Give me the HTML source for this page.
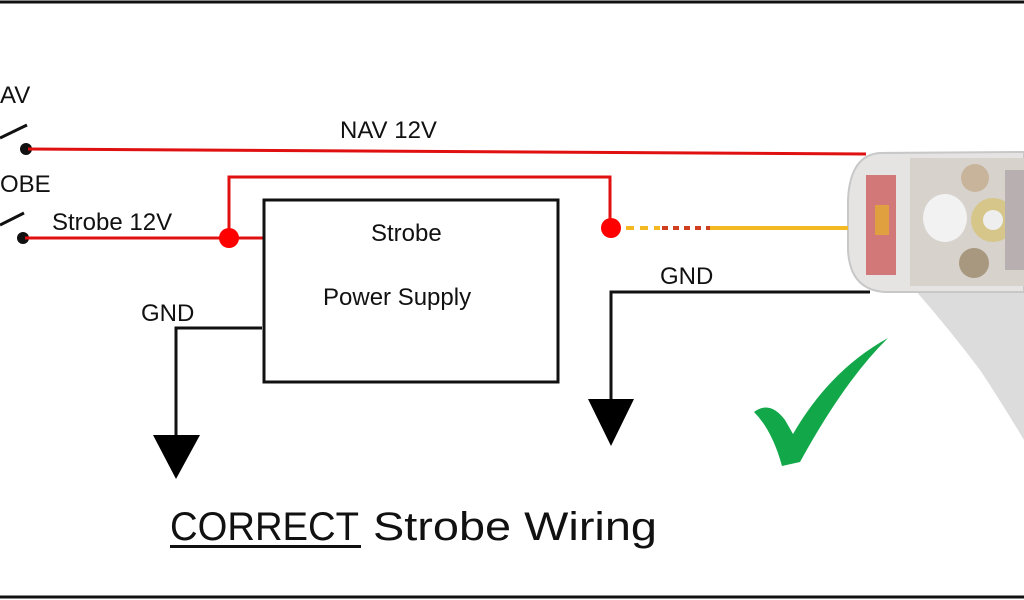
<!DOCTYPE html>
<html><head><style>
html,body{margin:0;padding:0;background:#fff;width:1024px;height:600px;overflow:hidden}
text{font-family:"Liberation Sans",sans-serif;fill:#111}
</style></head><body>
<svg width="1024" height="600" viewBox="0 0 1024 600" xmlns="http://www.w3.org/2000/svg">
<rect width="1024" height="600" fill="#fff"/>
<line x1="0" y1="2" x2="1024" y2="2" stroke="#111" stroke-width="3"/>
<line x1="0" y1="597" x2="1024" y2="597" stroke="#111" stroke-width="3"/>
<!-- light fixture -->
<path d="M915 290 L1024 290 L1024 440 Q1000 400 980 370 Q950 330 915 290Z" fill="#dcdcdc"/>
<path d="M880 153 L1024 152 L1024 292 L885 292 Q850 290 848 250 L848 200 Q850 155 880 153Z" fill="#e6e3e3" stroke="#c8c8c8" stroke-width="2"/>
<rect x="866" y="175" width="30" height="100" fill="#c94a4a" opacity="0.7"/>
<rect x="875" y="205" width="14" height="30" fill="#e0a040"/>
<rect x="910" y="158" width="114" height="128" fill="#d7d2cc"/>
<ellipse cx="945" cy="218" rx="22" ry="24" fill="#f2f2f2"/>
<circle cx="975" cy="178" r="14" fill="#c8b49a"/>
<circle cx="974" cy="263" r="15" fill="#a89880"/>
<circle cx="993" cy="220" r="22" fill="#d6c68a"/>
<circle cx="993" cy="220" r="10" fill="#eee"/>
<rect x="1005" y="170" width="19" height="100" fill="#b8b0b0"/>
<!-- switches -->
<line x1="0" y1="138" x2="27" y2="125" stroke="#111" stroke-width="3"/>
<circle cx="26" cy="149" r="6" fill="#111"/>
<line x1="0" y1="225" x2="24" y2="213" stroke="#111" stroke-width="3"/>
<circle cx="23" cy="238" r="6" fill="#111"/>
<text x="0" y="103" font-size="24">AV</text>
<text x="0" y="192" font-size="24">OBE</text>
<!-- NAV wire -->
<line x1="28" y1="149" x2="866" y2="154" stroke="#e01010" stroke-width="3"/>
<text x="340" y="138" font-size="24">NAV 12V</text>
<!-- strobe wire -->
<line x1="25" y1="238" x2="263" y2="238" stroke="#e01010" stroke-width="3"/>
<text x="52" y="230" font-size="24">Strobe 12V</text>
<polyline points="229,238 229,177 610,177 610,228" fill="none" stroke="#e01010" stroke-width="3"/>
<circle cx="229" cy="238" r="10" fill="#f00"/>
<circle cx="611" cy="228" r="10" fill="#f00"/>
<line x1="626" y1="228" x2="660" y2="228" stroke="#f4b820" stroke-width="4" stroke-dasharray="8 6"/>
<line x1="662" y1="228" x2="710" y2="228" stroke="#d04020" stroke-width="4" stroke-dasharray="6 5"/>
<line x1="710" y1="228" x2="848" y2="228" stroke="#f4b820" stroke-width="4"/>
<!-- box -->
<rect x="264" y="200" width="294" height="182" fill="none" stroke="#111" stroke-width="3"/>
<text x="371" y="241" font-size="24">Strobe</text>
<text x="323" y="305" font-size="24">Power Supply</text>
<!-- left GND -->
<polyline points="262,328 176,328 176,438" fill="none" stroke="#111" stroke-width="3"/>
<polygon points="153,435 200,435 176,479" fill="#000"/>
<text x="141" y="321" font-size="24">GND</text>
<!-- right GND -->
<polyline points="870,292 611,292 611,402" fill="none" stroke="#111" stroke-width="3"/>
<polygon points="588,399 634,399 611,446" fill="#000"/>
<text x="660" y="284" font-size="24">GND</text>
<!-- check -->
<path d="M754 412 Q770 400 785 420 L793 434 Q830 370 888 338 Q845 380 800 462 L782 466 Q772 430 754 412Z" fill="#12a84a"/>
<!-- title -->
<text x="170" y="540" font-size="40" textLength="189" lengthAdjust="spacingAndGlyphs">CORRECT</text>
<text x="373" y="540" font-size="40" textLength="284" lengthAdjust="spacingAndGlyphs">Strobe Wiring</text>
<rect x="170" y="545" width="191" height="3" fill="#111"/>
</svg>
</body></html>
